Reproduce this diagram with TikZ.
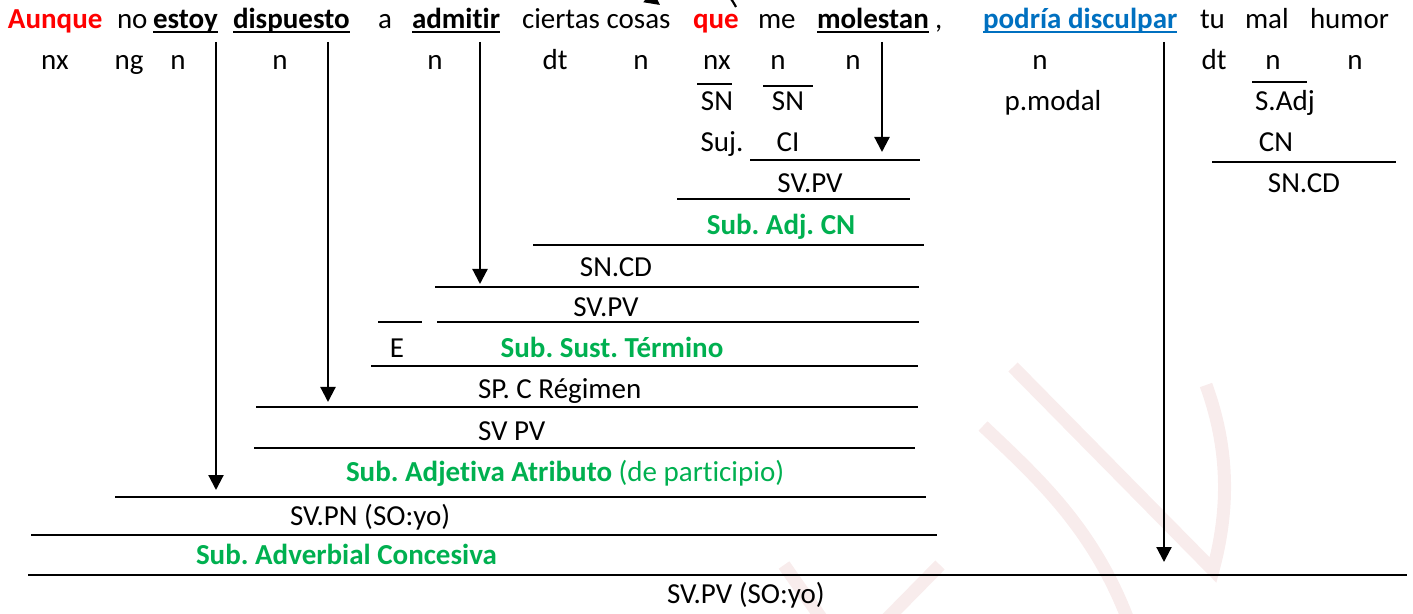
\documentclass[tikz,border=0pt]{standalone}
\usepackage{fontspec}
\setmainfont{Carlito}[Ligatures={NoCommon}]
\usetikzlibrary{arrows.meta}
\definecolor{wred}{RGB}{255,0,0}
\definecolor{wgreen}{RGB}{0,176,80}
\definecolor{wblue}{RGB}{0,112,192}
\definecolor{wmark}{RGB}{248,236,236}
\frenchspacing
\begin{document}
\begin{tikzpicture}[x=0.5pt,y=-0.5pt,
  every node/.style={inner sep=0pt, outer sep=0pt, font=\fontsize{14.5}{17}\selectfont},
  lbl/.style={anchor=base},
  lw/.style={anchor=base west},
  bw/.style={anchor=base west, font=\fontsize{14.5}{17}\selectfont\bfseries},
  grn/.style={text=wgreen, font=\fontsize{14.5}{17}\selectfont\bfseries},
  bar/.style={line width=0.9pt},
  ul/.style={line width=1.1pt},
  down/.style={line width=1.1pt, -{Triangle[length=7.5pt,width=7.5pt]}},
  wm/.style={draw=wmark, line width=6.5pt}
]
\useasboundingbox (0,0) rectangle (1413,614);
% watermark
\begin{scope}
\clip (0,0) rectangle (1413,614);
\draw[wm, line join=miter] (1013,367) -- (1213,570) .. controls (1232,500) and (1226,440) .. (1206,385);
\draw[wm] (983,426) .. controls (1040,480) and (1095,530) .. (1130,625);
\draw[wm] (940,565) -- (878,628);
\draw[wm] (784,565) -- (826,625);
\end{scope}
% row 1 words
\node[lw, font=\fontsize{14.5}{17}\selectfont\bfseries, text=wred] (w1) at (8,29) {Aunque};
\node[lw] (w2) at (117,29) {no};
\node[bw] (w3) at (153,29) {estoy};
\node[bw] (w4) at (233,29) {dispuesto};
\node[lw] (w5) at (378,29) {a};
\node[bw] (w6) at (412,29) {admitir};
\node[lw] (w7) at (522,29) {ciertas cosas};
\node[lw, font=\fontsize{14.5}{17}\selectfont\bfseries, text=wred] (w8) at (693,29) {que};
\node[lw] (w9) at (758,29) {me};
\node[bw] (w10) at (817,29) {molestan};
\node[lw] (w11) at (935,29) {,};
\node[lw, font=\fontsize{14.5}{17}\selectfont\bfseries, text=wblue] (w12) at (983,29) {podría disculpar};
\node[lw] (w13) at (1200,29) {tu};
\node[lw] (w14) at (1245,29) {mal};
\node[lw] (w15) at (1310,29) {humor};
\foreach \w in {w3,w4,w6,w10}{
  \draw[ul] ([yshift=-1.6pt]\w.base west) -- ([yshift=-1.6pt]\w.base east);
}
\draw[ul, wblue] ([yshift=-1.6pt]w12.base west) -- ([yshift=-1.6pt]w12.base east);
% curved arrow at top (clipped)
\coordinate (qa) at (736,7);
\coordinate (qb) at (660,5);
\begin{scope}
\clip (0,0) rectangle (1413,614);
\draw[line width=1.1pt, -{Triangle[length=7.5pt,width=7.5pt]}] (qa) .. controls (700,-60) and (600,-40) .. (qb);
\end{scope}
% row 2 categories
\node[lbl] (c1) at (55,70) {nx};
\node[lbl] (c2) at (129,70) {ng};
\node[lbl] (c3) at (178,70) {n};
\node[lbl] (c4) at (280,70) {n};
\node[lbl] (c5) at (435,70) {n};
\node[lbl] (c6) at (555,70) {dt};
\node[lbl] (c7) at (641,70) {n};
\node[lbl] (c8) at (717,70) {nx};
\node[lbl] (c9) at (778,70) {n};
\node[lbl] (c10) at (853,70) {n};
\node[lbl] (c11) at (1040,70) {n};
\node[lbl] (c12) at (1214,70) {dt};
\node[lbl] (c13) at (1273,70) {n};
\node[lbl] (c14) at (1355,70) {n};
% row 3
\draw[bar] (697,84) -- (732,84);
\draw[bar] (763,86) -- (813,86);
\draw[bar] (1252,82) -- (1307,82);
\node[lbl] (r3a) at (717,111) {SN};
\node[lbl] (r3b) at (788,111) {SN};
\node[lbl] (r3c) at (1053,111) {p.modal};
\node[lbl] (r3d) at (1285,111) {S.Adj};
% row 4
\node[lbl] (r4a) at (722,152) {Suj.};
\node[lbl] (r4b) at (788,152) {CI};
\node[lbl] (r4c) at (1276,152) {CN};
\draw[bar] (750,160) -- (920,160);
\draw[bar] (1212,162) -- (1396,162);
% row 5
\node[lbl] (r5a) at (810,193) {SV.PV};
\node[lbl] (r5b) at (1304,193) {SN.CD};
\draw[bar] (677,199) -- (910,199);
% row 6
\node[lbl, grn] (r6) at (781,235) {Sub. Adj. CN};
\draw[bar] (533,245) -- (924,245);
% row 7
\node[lbl] (r7) at (616,277) {SN.CD};
\draw[bar] (435,287) -- (919,287);
% row 8
\node[lbl] (r8) at (606,317) {SV.PV};
\draw[bar] (378,322) -- (422,322);
\draw[bar] (437,322) -- (919,322);
% row 9
\node[lbl] (r9a) at (397,358) {E};
\node[lbl, grn] (r9b) at (612,358) {Sub. Sust. Término};
\draw[bar] (371,366) -- (918,366);
% row 10
\node[lw] (r10) at (478,399) {SP. C Régimen};
\draw[bar] (256,407) -- (918,407);
% row 11
\node[lw] (r11) at (478,440) {SV PV};
\draw[bar] (254,448) -- (915,448);
% row 12
\node[lw, text=wgreen] (r12) at (346,481) {\textbf{Sub. Adjetiva Atributo} (de participio)};
\draw[bar] (115,497) -- (926,497);
% row 13
\node[lw] (r13) at (290,525) {SV.PN (SO:yo)};
\draw[bar] (31,535) -- (937,535);
% row 14
\node[lw, grn] (r14) at (196,564) {Sub. Adverbial Concesiva};
\draw[bar] (28,575) -- (1407,575);
% row 15
\node[lw] (r15) at (667,603) {SV.PV (SO:yo)};
% vertical arrows
\coordinate (a1s) at (216,42); \coordinate (a1e) at (216,490);
\coordinate (a2s) at (328,42); \coordinate (a2e) at (328,402);
\coordinate (a3s) at (480,42); \coordinate (a3e) at (480,284);
\coordinate (a4s) at (882,42); \coordinate (a4e) at (882,152);
\coordinate (a5s) at (1164,42); \coordinate (a5e) at (1164,562);
\draw[down] (a1s) -- (a1e);
\draw[down] (a2s) -- (a2e);
\draw[down] (a3s) -- (a3e);
\draw[down] (a4s) -- (a4e);
\draw[down] (a5s) -- (a5e);
\end{tikzpicture}
\end{document}
